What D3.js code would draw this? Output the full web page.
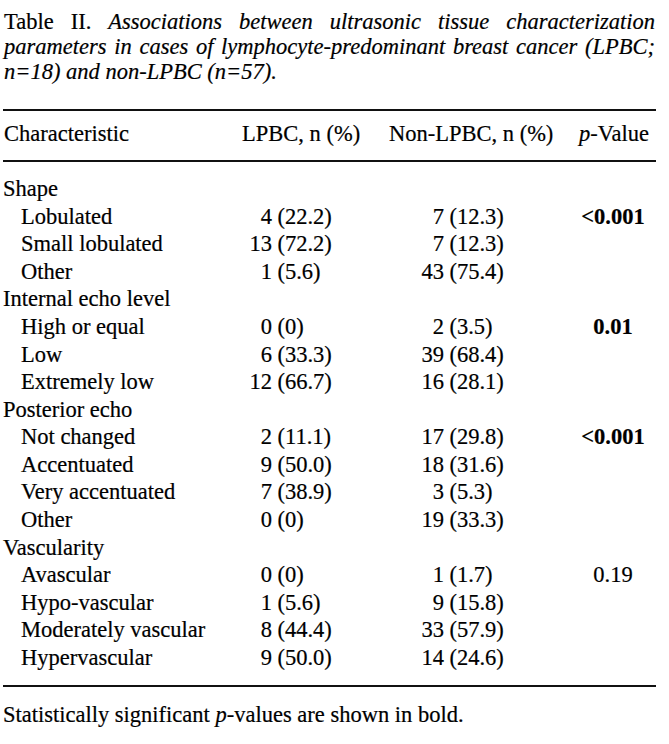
<!DOCTYPE html>
<html>
<head>
<meta charset="utf-8">
<script src="https://cdn.jsdelivr.net/npm/d3@7"></script>
<style>
  html, body { margin: 0; padding: 0; background: #fff; }
  svg { display: block; }
  text { font-family: "Liberation Serif", "Times New Roman", serif; fill: #000; stroke: #000; stroke-width: 0.2px; }
</style>
</head>
<body>
<div id="chart"></div>
<script>
// ---- Data ----
const titleLines = [
  [{t:"Table", i:false}, {t:"II.", i:false}, {t:"Associations", i:true}, {t:"between", i:true}, {t:"ultrasonic", i:true}, {t:"tissue", i:true}, {t:"characterization", i:true}],
  [{t:"parameters", i:true}, {t:"in", i:true}, {t:"cases", i:true}, {t:"of", i:true}, {t:"lymphocyte-predominant", i:true}, {t:"breast", i:true}, {t:"cancer", i:true}, {t:"(LPBC;", i:true}],
  [{t:"n=18) and non-LPBC (n=57).", i:true}]
];
const titleJustify = [true, true, false];

const columnHeaders = ["Characteristic", "LPBC, n (%)", "Non-LPBC, n (%)", "-Value"];

const rowLabels = ["Shape","Lobulated","Small lobulated","Other",
  "Internal echo level","High or equal","Low","Extremely low",
  "Posterior echo","Not changed","Accentuated","Very accentuated","Other",
  "Vascularity","Avascular","Hypo-vascular","Moderately vascular","Hypervascular"];
const rowIsGroup = [1,0,0,0, 1,0,0,0, 1,0,0,0,0, 1,0,0,0,0];
const lpbcN   = [null,"4","13","1", null,"0","6","12", null,"2","9","7","0", null,"0","1","8","9"];
const lpbcPct = [null,"22.2","72.2","5.6", null,"0","33.3","66.7", null,"11.1","50.0","38.9","0", null,"0","5.6","44.4","50.0"];
const nonN    = [null,"7","7","43", null,"2","39","16", null,"17","18","3","19", null,"1","9","33","14"];
const nonPct  = [null,"12.3","12.3","75.4", null,"3.5","68.4","28.1", null,"29.8","31.6","5.3","33.3", null,"1.7","15.8","57.9","24.6"];
const pValues = [null,"<0.001",null,null, null,"0.01",null,null, null,"<0.001",null,null,null, null,"0.19",null,null,null];
const pBold   = [0,1,0,0, 0,1,0,0, 0,1,0,0,0, 0,0,0,0,0];

const footnote = ["Statistically significant ", "p", "-values are shown in bold."];

// ---- Layout ----
const W = 669, H = 744;
const FS = 22.5;
const left = 4, right = 655;

const svg = d3.select("#chart").append("svg")
  .attr("width", W).attr("height", H);
svg.append("rect").attr("width", W).attr("height", H).attr("fill", "#fff");

// Title (justified lines)
const titleY = d3.scaleLinear().domain([0, 2]).range([29, 79]);
titleLines.forEach((words, li) => {
  const g = svg.append("g");
  const nodes = words.map(w => g.append("text")
    .attr("y", titleY(li))
    .attr("font-size", FS)
    .attr("font-style", w.i ? "italic" : "normal")
    .text(w.t));
  const widths = nodes.map(n => n.node().getComputedTextLength());
  const total = d3.sum(widths);
  const gap = (titleJustify[li] && words.length > 1) ? (right - left - total) / (words.length - 1) : 0;
  let x = left;
  nodes.forEach((n, k) => { n.attr("x", x); x += widths[k] + gap; });
});

// Rules
const rules = [110, 161, 686];
svg.selectAll("line.rule").data(rules).join("line")
  .attr("class", "rule")
  .attr("x1", 3).attr("x2", 656)
  .attr("y1", d => d).attr("y2", d => d)
  .attr("stroke", "#111").attr("stroke-width", 2);

// Header
const headerY = 141;
svg.append("text").attr("x", 4).attr("y", headerY).attr("font-size", FS).text(columnHeaders[0]);
svg.append("text").attr("x", 242).attr("y", headerY).attr("font-size", FS).text(columnHeaders[1]);
svg.append("text").attr("x", 389).attr("y", headerY).attr("font-size", FS).text(columnHeaders[2]);
const ph = svg.append("text").attr("x", 614).attr("y", headerY).attr("font-size", FS).attr("text-anchor", "middle");
ph.append("tspan").attr("font-style", "italic").text("p");
ph.append("tspan").text(columnHeaders[3]);

// Rows
const y = d3.scalePoint().domain(d3.range(rowLabels.length)).range([196, 665]);
const rows = svg.append("g").selectAll("g.row").data(rowLabels.map((label, i) => ({label, i}))).join("g")
  .attr("class", "row")
  .attr("transform", d => `translate(0,${y(d.i)})`);

rows.append("text")
  .attr("x", d => rowIsGroup[d.i] ? 3 : 21)
  .attr("font-size", FS)
  .text(d => d.label);

// LPBC column
rows.filter(d => lpbcN[d.i] !== null).append("text")
  .attr("x", 272).attr("text-anchor", "end").attr("font-size", FS)
  .text(d => lpbcN[d.i]);
rows.filter(d => lpbcPct[d.i] !== null).append("text")
  .attr("x", 277.5).attr("font-size", FS)
  .text(d => "(" + lpbcPct[d.i] + ")");

// Non-LPBC column
rows.filter(d => nonN[d.i] !== null).append("text")
  .attr("x", 444).attr("text-anchor", "end").attr("font-size", FS)
  .text(d => nonN[d.i]);
rows.filter(d => nonPct[d.i] !== null).append("text")
  .attr("x", 449.5).attr("font-size", FS)
  .text(d => "(" + nonPct[d.i] + ")");

// p-values
rows.filter(d => pValues[d.i] !== null).append("text")
  .attr("x", 613).attr("text-anchor", "middle").attr("font-size", FS)
  .attr("font-weight", d => pBold[d.i] ? "bold" : "normal")
  .text(d => pValues[d.i]);

// Footnote
const fn = svg.append("text").attr("x", 3).attr("y", 722).attr("font-size", FS);
fn.append("tspan").text(footnote[0]);
fn.append("tspan").attr("font-style", "italic").text(footnote[1]);
fn.append("tspan").text(footnote[2]);
</script>
</body>
</html>
